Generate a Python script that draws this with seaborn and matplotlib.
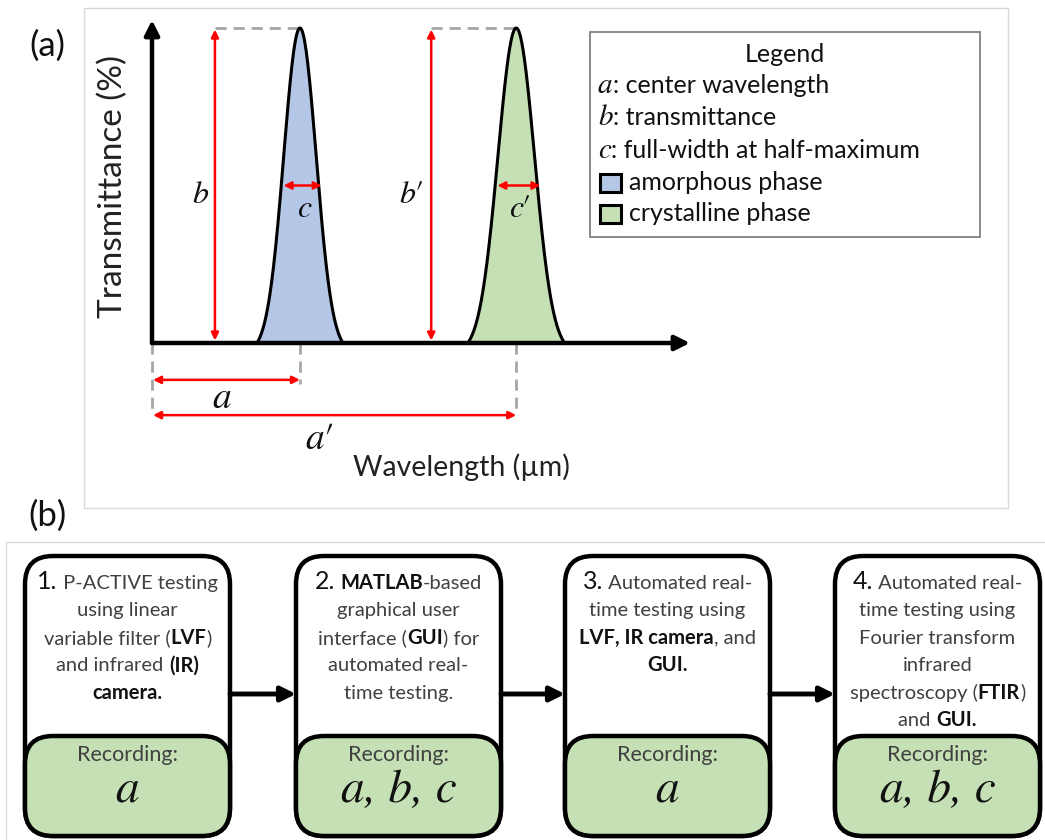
import numpy as np
import matplotlib
matplotlib.use("Agg")
import matplotlib.pyplot as plt
import seaborn as sns
from matplotlib.patches import FancyBboxPatch, Rectangle

# ---------------- data ----------------
phases = ["amorphous phase", "crystalline phase"]
center_wavelength = [2.75, 6.77]      # a, a'
transmittance = [100.0, 100.0]        # b, b'
fwhm = [0.71, 0.80]                   # c, c'
phase_colors = ["#b4c7e7", "#c5e0b4"]
primes = [False, True]

legend_symbols = ["a", "b", "c"]
legend_desc = ["center wavelength", "transmittance", "full-width at half-maximum"]

step_numbers = ["1.", "2.", "3.", "4."]
step_lines = [
    [[(" P-ACTIVE testing", "r")], [("using linear", "r")],
     [("variable filter (", "r"), ("LVF", "b"), (")", "r")],
     [("and infrared ", "r"), ("(IR)", "b")], [("camera.", "b")]],
    [[(" ", "r"), ("MATLAB", "b"), ("-based", "r")], [("graphical user", "r")],
     [("interface (", "r"), ("GUI", "b"), (") for", "r")],
     [("automated real-", "r")], [("time testing.", "r")]],
    [[(" Automated real-", "r")], [("time testing using", "r")],
     [("LVF, IR camera", "b"), (", and", "r")], [("GUI.", "b")]],
    [[(" Automated real-", "r")], [("time testing using", "r")],
     [("Fourier transform", "r")], [("infrared", "r")],
     [("spectroscopy (", "r"), ("FTIR", "b"), (")", "r")],
     [("and ", "r"), ("GUI.", "b")]],
]
recordings = ["a", "a, b, c", "a", "a, b, c"]

# ---------------- style ----------------
sns.set_theme(style="white")
plt.rcParams["font.family"] = ["Lato", "DejaVu Sans"]
MATH = dict(family=["STIXGeneral", "DejaVu Serif"], style="italic", color="#111111")
PRIME = dict(family=["STIXGeneral", "DejaVu Serif"], style="normal", color="#111111")

W, H = 1045, 840
fig = plt.figure(figsize=(W / 100, H / 100), dpi=100)
ov = fig.add_axes([0, 0, 1, 1])
ov.set_xlim(0, W)
ov.set_ylim(H, 0)
ov.axis("off")
ov.set_zorder(2)
renderer = fig.canvas.get_renderer()

RED = "#ff0000"
GRAY = "#a6a6a6"
TXT = "#404040"


def adv(s, **kw):
    t1 = ov.text(0, 0, "|" + s + "|", **kw)
    t2 = ov.text(0, 0, "||", **kw)
    w = t1.get_window_extent(renderer).width - t2.get_window_extent(renderer).width
    t1.remove()
    t2.remove()
    return w


# ---------------- panel (a) ----------------
ov.add_patch(Rectangle((84, 8), 924, 500, fill=False, ec="#d9d9d9", lw=1))
ov.text(47, 46, "(a)", ha="center", va="center", size=25, color="#111111")

L, R, T, B = 152, 690, 20, 343
ax = fig.add_axes([L / W, 1 - B / H, (R - L) / W, (B - T) / H])
ax.set_zorder(1)
ax.patch.set_alpha(0)
X_MAX, Y_MAX = 10.0, 100.0 * (B - T) / (B - 28)
ax.set_xlim(0, X_MAX)
ax.set_ylim(0, Y_MAX)
ax.axis("off")


def sym_label(xd, yd, letter, primed, size, ha="center"):
    """Italic symbol with optional upright prime; (xd, yd) is baseline in data units."""
    dxp, dyp = ax.transData.transform((xd, yd))
    px, py = dxp, H - dyp
    wl = adv(letter, size=size, **MATH)
    wp = adv("\u2032", size=size, **PRIME) if primed else 0
    tot = wl + wp
    x0 = px - tot / 2 if ha == "center" else px - tot
    ov.text(x0, py, letter, ha="left", va="baseline", size=size, **MATH)
    if primed:
        ov.text(x0 + wl - 1, py, "\u2032", ha="left", va="baseline", size=size, **PRIME)


for cen, h, w, col in zip(center_wavelength, transmittance, fwhm, phase_colors):
    s = w / 2.3548
    k = 2.65
    x = np.linspace(cen - k * s, cen + k * s, 300)
    g = np.exp(-0.5 * ((x - cen) / s) ** 2)
    ge = np.exp(-0.5 * k ** 2)
    y = h * (g - ge) / (1 - ge)
    ax.fill_between(x, 0, y, color=col, zorder=2, lw=0)
    sns.lineplot(x=x, y=y, ax=ax, color="black", lw=2.2, zorder=3,
                 estimator=None, sort=False)

# axes arrows
for tip in [(X_MAX, 0), (0, Y_MAX)]:
    ax.annotate("", xy=tip, xytext=(0, 0), annotation_clip=False, zorder=4,
                arrowprops=dict(arrowstyle="-|>", color="black", lw=3.2,
                                mutation_scale=22, shrinkA=0, shrinkB=0))

red_arrow = dict(arrowstyle="<|-|>", color=RED, lw=1.8, mutation_scale=11,
                 shrinkA=0, shrinkB=0)
dash = dict(color=GRAY, lw=2, linestyle=(0, (4, 2.5)), clip_on=False, zorder=1)

for i, (cen, h, w) in enumerate(zip(center_wavelength, transmittance, fwhm)):
    bx = cen - 1.58
    ax.annotate("", xy=(bx, h - 0.5), xytext=(bx, 0.8), annotation_clip=False,
                arrowprops=red_arrow, zorder=5)
    ax.plot([bx, cen], [h, h], **dash)
    sym_label(bx - 0.12, 44.5, "b", primes[i], 23, ha="right")
    ax.annotate("", xy=(cen + w / 2 + 0.05, h / 2), xytext=(cen - w / 2 + 0.05, h / 2),
                annotation_clip=False, arrowprops=red_arrow, zorder=5)
    sym_label(cen + 0.08, 40.0, "c", primes[i], 23)

# below axis
ax.plot([0, 0], [0, -23], **dash)
ax.plot([center_wavelength[0]] * 2, [0, -13], **dash)
ax.plot([center_wavelength[1]] * 2, [0, -23], **dash)
ax.annotate("", xy=(center_wavelength[0], -11.7), xytext=(0.02, -11.7),
            annotation_clip=False, arrowprops=red_arrow)
ax.annotate("", xy=(center_wavelength[1], -22.9), xytext=(0.02, -22.9),
            annotation_clip=False, arrowprops=red_arrow)
sym_label(1.3, -20.5, "a", primes[0], 27)
sym_label(3.12, -33.8, "a", primes[1], 27)

ov.text(461, 467, "Wavelength (µm)", ha="center", va="center", size=20.5,
        color="#222222")
ov.text(113, 187, "Transmittance (%)", ha="center", va="center", size=24,
        color="#222222", rotation=90)

# legend box
LEG = dict(size=18, color="#111111")
ov.add_patch(Rectangle((590, 32), 390, 205, fill=False, ec="#808080", lw=1.3))
ov.text(785, 62, "Legend", ha="center", va="baseline", **LEG)
leg_base = [93, 125, 158, 190, 221]
for j, (sym, desc) in enumerate(zip(legend_symbols, legend_desc)):
    wsym = adv(sym, size=21, **MATH)
    ov.text(598, leg_base[j], sym, ha="left", va="baseline", size=21, **MATH)
    ov.text(598 + wsym, leg_base[j], ": " + desc, ha="left", va="baseline", **LEG)
for j, (ph, col) in enumerate(zip(phases, phase_colors)):
    yb = leg_base[3 + j]
    ov.add_patch(Rectangle((600, yb - 16), 21, 18, fc=col, ec="black", lw=2.2))
    ov.text(629, yb, ph, ha="left", va="baseline", **LEG)

# ---------------- panel (b) ----------------
ov.text(47, 516, "(b)", ha="center", va="center", size=25, color="#111111")
ov.add_patch(Rectangle((6, 542), 1050, 320, fill=False, ec="#d9d9d9", lw=1))

STY = {
    "r": dict(size=14.5, color=TXT, weight="normal"),
    "b": dict(size=14.5, color="#111111", weight="bold"),
    "n": dict(size=18, color="#111111", weight="normal"),
}


def rich_line(cx, base, segs):
    widths = [adv(t, **STY[k]) for t, k in segs]
    x = cx - sum(widths) / 2
    for (t, k), wd in zip(segs, widths):
        ov.text(x, base, t, ha="left", va="baseline", **STY[k])
        x += wd


box_x = [25, 296, 565, 835]
BW = 205
for i, bx in enumerate(box_x):
    ov.add_patch(FancyBboxPatch((bx, 556), BW, 280,
                                boxstyle="round,pad=0,rounding_size=28",
                                fc="white", ec="black", lw=3.2, zorder=2))
    ov.add_patch(FancyBboxPatch((bx, 736), BW, 100,
                                boxstyle="round,pad=0,rounding_size=28",
                                fc="#c5e0b4", ec="black", lw=3.2, zorder=3))
    cx = bx + BW / 2
    lines = step_lines[i]
    for j, segs in enumerate(lines):
        if j == 0:
            segs = [(step_numbers[i], "n")] + segs
        rich_line(cx, 589 + 27.4 * j, segs)
    ov.text(cx, 761, "Recording:", ha="center", va="baseline", size=15.5,
            color=TXT, zorder=4)
    ov.text(cx, 802, recordings[i], ha="center", va="baseline", size=34,
            zorder=4, **MATH)
    if i < len(box_x) - 1:
        ov.annotate("", xy=(box_x[i + 1], 694), xytext=(bx + BW, 694),
                    arrowprops=dict(arrowstyle="-|>", color="black", lw=3.5,
                                    mutation_scale=22, shrinkA=0, shrinkB=0))

fig.savefig("out.png", dpi=100)
